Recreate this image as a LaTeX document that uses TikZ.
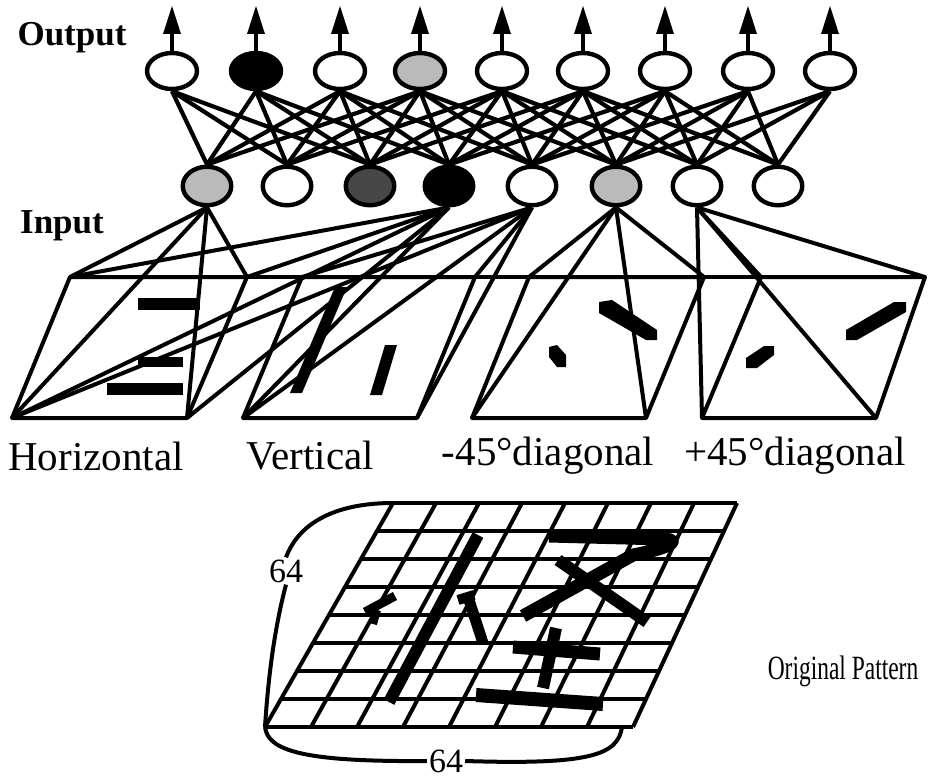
\documentclass[tikz,border=0pt]{standalone}
\usepackage{fontspec}
\setmainfont{Liberation Serif}
\newfontfamily\narrowfont[FakeStretch=0.69]{Liberation Serif}
\usetikzlibrary{shapes.geometric}
\begin{document}
\begin{tikzpicture}[x=1pt,y=-1pt,
  neuron/.style={ellipse,draw,line width=4.4pt,inner sep=0pt},
  outn/.style={neuron,minimum width=50pt,minimum height=36pt},
  inn/.style={neuron,minimum width=48.5pt,minimum height=38.5pt},
  wh/.style={fill=white}, bk/.style={fill=black},
  lg/.style={fill=black!27}, dg/.style={fill=black!72},
  conn/.style={line width=4.2pt},
  shaft/.style={line width=4pt},
  tip/.style={fill=black},
  edge/.style={line width=4pt,line join=round},
  feat/.style={fill=black},
  stroke/.style={line width=12pt,line join=round},
  gridline/.style={line width=4pt},
  lab/.style={font=\fontsize{41}{43}\selectfont},
  title/.style={font=\fontsize{35}{37}\selectfont\bfseries},
  dimlab/.style={font=\fontsize{34}{36}\selectfont,inner sep=2pt},
]
\useasboundingbox (0,0) rectangle (928,781);

% ---- titles
\node[title] (tout) at (72,38) {Output};
\node[title] (tin) at (62,226) {Input};

% ---- output neurons
\foreach \k/\x/\f in {1/172/wh,2/256/bk,3/340/wh,4/420/lg,5/502/wh,6/583/wh,7/665/wh,8/748/wh,9/830/wh}{
  \node[outn,\f] (o\k) at (\x,71) {};
  \coordinate (t\k) at (\x,33);
  \fill[tip] (\x-9,34) -- (\x+9,34) -- (\x,6) -- cycle;
}
% ---- input neurons
\foreach \k/\x/\f in {1/207/lg,2/287/wh,3/370/dg,4/449/bk,5/532/wh,6/616/lg,7/697/wh,8/778/wh}{
  \node[inn,\f] (n\k) at (\x,186) {};
}
% ---- output arrows
\foreach \k in {1,...,9}{ \draw[shaft] (o\k.north) -- (t\k); }
% ---- layer connections
\foreach \i in {1,...,9}{
  \pgfmathtruncatemacro\lo{max(1,\i-3)}
  \pgfmathtruncatemacro\hi{min(8,\i+2)}
  \foreach \j in {\lo,...,\hi}{ \draw[conn] (o\i.south) -- (n\j.north); }
}

% ---- feature panels
\foreach \p/\a/\b/\c/\d in {1/70/247/187/12, 2/302/475/417/243, 3/529/704/646/472, 4/761/925/876/702}{
  \coordinate (tl\p) at (\a,277);
  \coordinate (tr\p) at (\b,277);
  \coordinate (br\p) at (\c,418);
  \coordinate (bl\p) at (\d,418);
  \draw[edge] (tl\p) -- (tr\p) -- (br\p) -- (bl\p) -- cycle;
}
\draw[edge] (tr1) -- (tl2);
\draw[edge] (tr2) -- (tl3);
\draw[edge] (tr3) -- (tl4);
% input -> panel fans
\foreach \c in {tl1,tr1,bl1,br1}{ \draw[edge] (n1.south) -- (\c); }
\foreach \c in {tl1,tr1,bl1,br1,bl2}{ \draw[edge] (n4.south) -- (\c); }
\foreach \c in {tl2,tr2,bl2,br2,bl1}{ \draw[edge] (n5.south) -- (\c); }
\foreach \c in {tl3,tr3,bl3,br3}{ \draw[edge] (n6.south) -- (\c); }
\foreach \c in {tl4,tr4,bl4,br4}{ \draw[edge] (n7.south) -- (\c); }

% features in panels
\fill[feat] (138,298) rectangle (200,310);
\fill[feat] (138,357) rectangle (183,367);
\fill[feat] (107,383) rectangle (183,395);
\fill[feat] (335,287) -- (347,287) -- (302,393) -- (290,393) -- cycle;
\fill[feat] (385,345) -- (397,345) -- (382,395) -- (370,395) -- cycle;
\fill[feat] (599,302) -- (612,300) -- (657,330) -- (657,340) -- (646,340) -- (599,313) -- cycle;
\fill[feat] (549,347) -- (557,345) -- (566,355) -- (566,367) -- (557,367) -- (549,357) -- cycle;
\fill[feat] (846,330) -- (894,302) -- (906,302) -- (906,312) -- (857,340) -- (846,340) -- cycle;
\fill[feat] (746,358) -- (764,346) -- (774,346) -- (774,355) -- (757,368) -- (746,368) -- cycle;

% panel labels
\node[lab] (lh) at (96,456) {Horizontal};
\node[lab] (lv) at (310,456) {Vertical};
\node[lab] (lm) at (548,456) {-45°diagonal};
\node[lab] (lp) at (795,456) {+45°diagonal};

% ---- original pattern grid
\foreach \i in {0,...,8}{
  \draw[gridline] (265+46*\i,727) -- (393+43*\i,503);
  \draw[gridline] (393-16*\i,503+28*\i) -- (737-13*\i,503+28*\i);
}
\coordinate (gbl) at (265,727);
\coordinate (gtl) at (393,503);
\coordinate (gbr) at (622,727);
% strokes
\draw[stroke] (478,535) -- (389,702);
\draw[stroke,line width=9pt] (365,612) -- (395,596);
\draw[stroke,line width=8pt] (377,610) -- (373,624);
\draw[stroke,line width=10pt] (458,600) -- (474,595);
\draw[stroke,line width=11pt] (468,597) -- (483,643);
\draw[stroke,line width=13pt] (549,536) -- (665,539) .. controls (685,541) and (660,550) .. (633,555) -- (523,616);
\draw[stroke] (558,560) -- (647,622);
\draw[stroke,line width=13pt] (513,647) -- (600,654);
\draw[stroke] (556,628) -- (543,688);
\draw[stroke,line width=14pt] (476,695) -- (603,704);

% dimension brackets
\node[dimlab] (d1) at (286,571) {64};
\node[dimlab] (d2) at (446,761) {64};
\draw[line width=4pt] (gbl) .. controls (268,680) and (274,630) .. (d1.south);
\draw[line width=4pt] (d1.north) .. controls (300,520) and (340,503) .. (gtl);
\draw[line width=4pt] (gbl) .. controls (268,750) and (300,762) .. (d2.west);
\draw[line width=4pt] (d2.east) .. controls (590,765) and (618,755) .. (gbr);

\node[font=\fontsize{34}{36}\narrowfont] (op) at (843,671) {Original Pattern};
\end{tikzpicture}
\end{document}
